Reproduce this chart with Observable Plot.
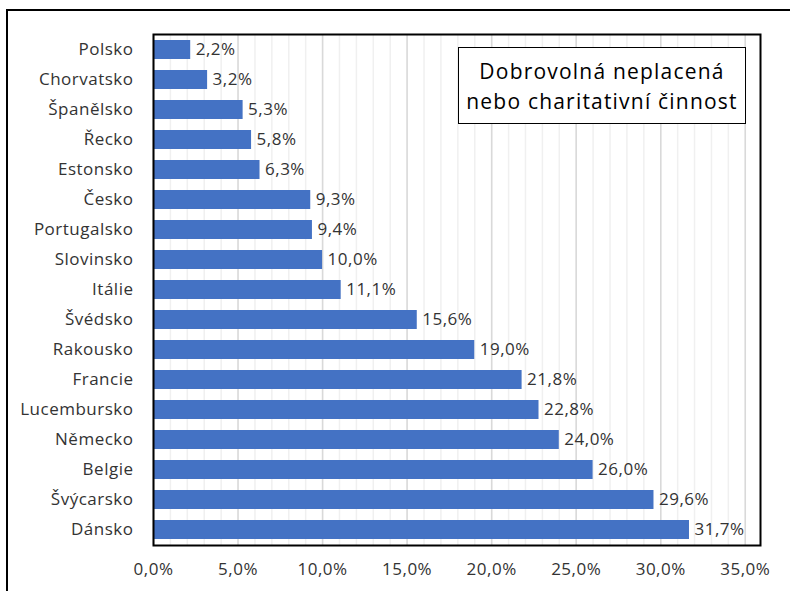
<!DOCTYPE html>
<html>
<head>
<meta charset="utf-8">
<script src="https://cdn.jsdelivr.net/npm/d3@7"></script>
<script src="https://cdn.jsdelivr.net/npm/@observablehq/plot@0.6"></script>
<style>
  html, body { margin: 0; padding: 0; background: #fff; }
  #wrap { position: relative; width: 790px; height: 591px; overflow: hidden; font-family: "Open Sans", sans-serif; }
  #outer { position: absolute; left: 6px; top: 9px; width: 800px; height: 600px; border: 2.5px solid #000; box-sizing: border-box; pointer-events: none; }
  #title { position: absolute; left: 458px; top: 47px; width: 288px; height: 77px; border: 1.5px solid #000; box-sizing: border-box; background: #fff;
           display: flex; align-items: center; justify-content: center; text-align: center; font-size: 21px; letter-spacing: 1.2px; line-height: 30px; color: #000; padding-top: 1px; }
  svg { display: block; }
  svg text { letter-spacing: 0.5px; }
</style>
</head>
<body>
<div id="wrap">
  <div id="chart"></div>
  <div id="outer"></div>
  <div id="title">Dobrovolná neplacená<br>nebo charitativní činnost</div>
</div>
<script>
const countries = ["Polsko","Chorvatsko","Španělsko","Řecko","Estonsko","Česko","Portugalsko","Slovinsko","Itálie","Švédsko","Rakousko","Francie","Lucembursko","Německo","Belgie","Švýcarsko","Dánsko"];
const values = [2.2,3.2,5.3,5.8,6.3,9.3,9.4,10.0,11.1,15.6,19.0,21.8,22.8,24.0,26.0,29.6,31.7];
const xTicks = [0,5,10,15,20,25,30,35];
const minorTicks = d3.range(0, 36, 1);

const data = countries.map((c, i) => ({country: c, value: values[i]}));
const fmt = v => v.toFixed(1).replace(".", ",") + "%";

const chart = Plot.plot({
  width: 790,
  height: 591,
  marginLeft: 153,
  marginTop: 34,
  marginBottom: 46,
  marginRight: 30,
  style: {fontFamily: "'Open Sans', sans-serif", fontSize: "17px", color: "#333", background: "transparent"},
  x: {domain: [0, 35.9], ticks: xTicks, tickFormat: fmt, label: null, tickSize: 0, tickPadding: 17},
  y: {domain: countries, label: null, paddingInner: 0.37, paddingOuter: 0.185, tickSize: 0, tickPadding: 20},
  marks: [
    Plot.ruleX(minorTicks, {stroke: "#f0f0f0", strokeWidth: 1.5}),
    Plot.ruleX(xTicks, {stroke: "#d9d9d9", strokeWidth: 1.5}),
    Plot.barX(data, {x: "value", y: "country", fill: "#4472C4"}),
    Plot.text(data, {x: "value", y: "country", text: d => fmt(d.value), textAnchor: "start", dx: 5, fill: "#333", fontSize: 17}),
    Plot.frame({stroke: "#000", strokeWidth: 2})
  ]
});
document.getElementById("chart").appendChild(chart);
</script>
</body>
</html>
